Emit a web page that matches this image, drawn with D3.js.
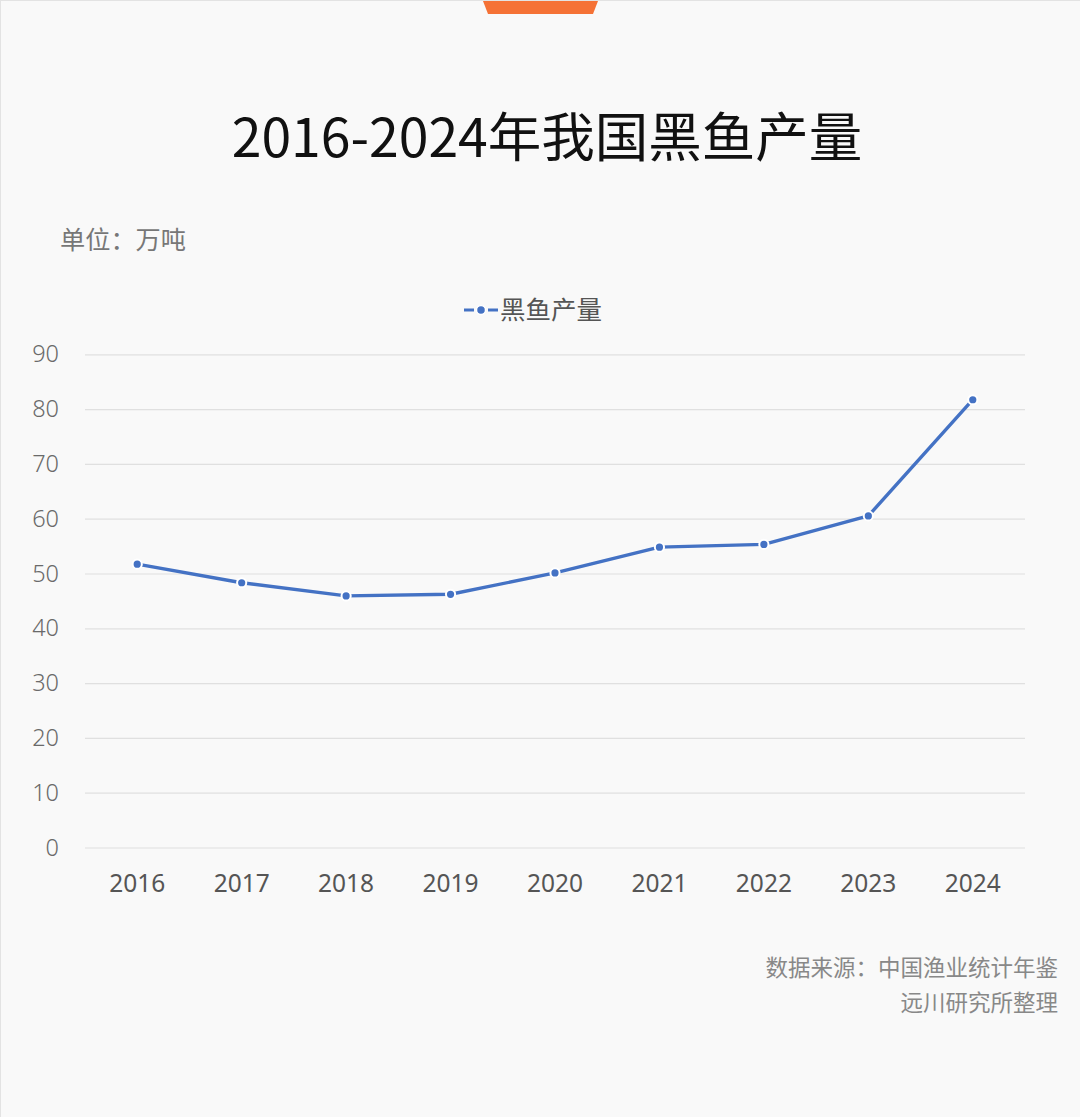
<!DOCTYPE html>
<html><head><meta charset="utf-8">
<script src="https://cdn.jsdelivr.net/npm/d3@7"></script>
<style>
html,body{margin:0;padding:0;background:#fff;}
svg{display:block;font-family:"Noto Sans CJK SC","Noto Sans",sans-serif;}
</style></head>
<body>
<svg id="chart" width="1080" height="1117"></svg>
<script>
const years = ["2016","2017","2018","2019","2020","2021","2022","2023","2024"];
const output = [51.8, 48.4, 46.0, 46.3, 50.2, 54.9, 55.4, 60.6, 81.8];
const yTicks = [0,10,20,30,40,50,60,70,80,90];
const seriesName = "黑鱼产量";
const titleText = "2016-2024年我国黑鱼产量";
const unitText = "单位：万吨";
const sourceLines = ["数据来源：中国渔业统计年鉴","远川研究所整理"];

const svg = d3.select("#chart");
svg.append("rect").attr("x",0.5).attr("y",0.5).attr("width",1090).attr("height",1130)
  .attr("fill","#f9f9f9").attr("stroke","#e3e3e3");
// orange tab
svg.append("path").attr("d","M483,1 L598,1 L593,14 L488,14 Z").attr("fill","#f57236");

svg.append("text").attr("x",547).attr("y",157).attr("text-anchor","middle")
  .attr("font-size",53.5).attr("fill","#111").text(titleText);
svg.append("text").attr("x",60).attr("y",249).attr("font-size",25.2).attr("fill","#777").text(unitText);

const x = d3.scaleBand().domain(years).range([85,1025]);
const y = d3.scaleLinear().domain([0,90]).range([848,354.8]);

// grid
svg.append("g").selectAll("line").data(yTicks).join("line")
  .attr("x1",85).attr("x2",1025).attr("y1",d=>y(d)).attr("y2",d=>y(d))
  .attr("stroke","#e0e0e0").attr("stroke-width",1.2);

const yAxis = svg.append("g").attr("transform","translate(59,0)")
  .call(d3.axisLeft(y).tickValues(yTicks).tickSize(0).tickPadding(0));
yAxis.select(".domain").remove();
yAxis.selectAll("text").attr("font-size",23.5).attr("fill","#6a6a6a").attr("font-weight",300)
  .attr("font-family","'Noto Sans',sans-serif").attr("dy","0.3em");

const xAxis = svg.append("g").attr("transform","translate(0,848)")
  .call(d3.axisBottom(x).tickSize(0).tickPadding(27));
xAxis.select(".domain").remove();
xAxis.selectAll("text").attr("font-size",24.5).attr("fill","#555").attr("font-family","'Noto Sans',sans-serif");

const color = "#4472c4";
const line = d3.line().x((d,i)=>x(years[i])+x.bandwidth()/2).y(d=>y(d));
svg.append("path").datum(output).attr("d",line).attr("fill","none")
  .attr("stroke",color).attr("stroke-width",3.4).attr("stroke-linejoin","round");
svg.append("g").selectAll("circle").data(output).join("circle")
  .attr("cx",(d,i)=>x(years[i])+x.bandwidth()/2).attr("cy",d=>y(d)).attr("r",4.6)
  .attr("fill",color).attr("stroke","#fff").attr("stroke-width",2);

// legend
const lg = svg.append("g");
lg.append("line").attr("x1",464).attr("x2",474).attr("y1",310).attr("y2",310).attr("stroke",color).attr("stroke-width",3);
lg.append("line").attr("x1",488).attr("x2",498).attr("y1",310).attr("y2",310).attr("stroke",color).attr("stroke-width",3);
lg.append("circle").attr("cx",481).attr("cy",310).attr("r",4.5).attr("fill",color).attr("stroke","#fff").attr("stroke-width",1.5);
lg.append("text").attr("x",500).attr("y",319).attr("font-size",25.5).attr("fill","#555").text(seriesName);

svg.append("g").selectAll("text").data(sourceLines).join("text")
  .attr("x",1058).attr("y",(d,i)=>976+i*35).attr("text-anchor","end")
  .attr("font-size",22.5).attr("fill","#888").text(d=>d);
</script>
</body></html>
